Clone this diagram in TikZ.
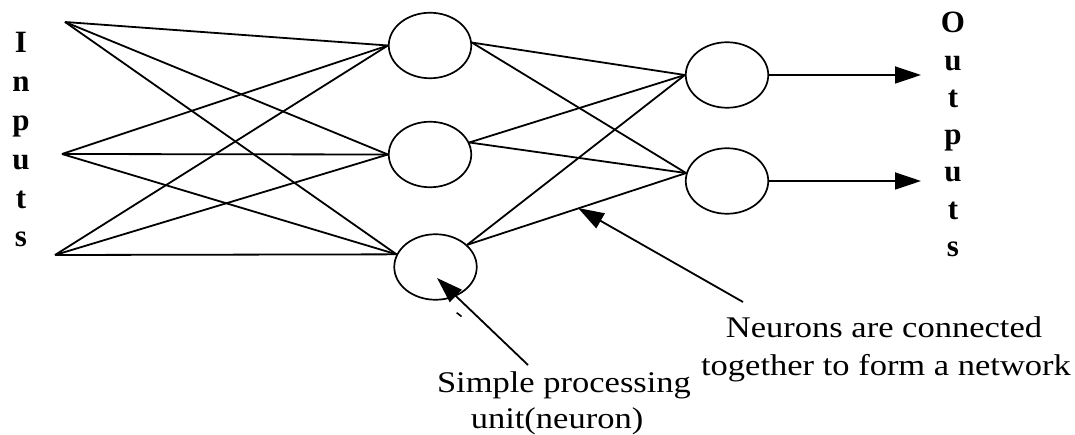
\documentclass[tikz,border=0pt]{standalone}
\usepackage{fontspec}
\setmainfont{Liberation Serif}
\usetikzlibrary{arrows.meta,shapes.geometric}
\newcommand\wideline[1]{\scalebox{1.15}[1]{#1}}
\begin{document}
\begin{tikzpicture}[x=1pt,y=-1pt,
  neuron/.style={draw, line width=1.7pt, ellipse, minimum width=82.5pt, minimum height=65.5pt, inner sep=0pt},
  link/.style={line width=1.8pt},
  outarrow/.style={line width=1.8pt, -{Triangle[length=26pt,width=17pt]}},
  lbl/.style={inner sep=0pt, font=\fontsize{30}{36}\selectfont, anchor=base},
  stack/.style={inner sep=0pt, align=center, anchor=north}]
\useasboundingbox (0,0) rectangle (1075,435);

% input points
\coordinate (i1) at (65,22);
\coordinate (i2) at (62,154);
\coordinate (i3) at (55,255);

% hidden layer
\node[neuron] (h1) at (430,45.5) {};
\node[neuron] (h2) at (430,154.5) {};
\node[neuron] (h3) at (435.5,267) {};

% output layer
\node[neuron] (o1) at (727,75) {};
\node[neuron] (o2) at (727,181) {};

% inputs -> hidden
\foreach \i in {i1,i2,i3} {
  \draw[link] (\i) -- (h1.west);
  \draw[link] (\i) -- (h2.west);
  \draw[link] (\i) -- (h3.162);
}

% hidden -> outputs
\draw[link] (h1.4) -- (o1.west);
\draw[link] (h1.4) -- (o2.169);
\draw[link] (h2.17) -- (o1.west);
\draw[link] (h2.17) -- (o2.169);
\draw[link] (h3.35) -- (o1.west);
\draw[link] (h3.35) -- (o2.169);

% output arrows
\coordinate (y1) at (921,75);
\coordinate (y2) at (921,181);
\draw[outarrow] (o1.east) -- (y1);
\draw[outarrow] (o2.east) -- (y2);

% side labels
\node[stack, font=\fontsize{31}{38.8}\bfseries\selectfont] (inputs) at (21,32.5) {I\\n\\p\\u\\t\\s};
\node[stack, font=\fontsize{31}{37.3}\bfseries\selectfont] (outputs) at (953,12) {O\\u\\t\\p\\u\\t\\s};

% annotations
\coordinate (unitTail) at (528,365);
\coordinate (unitTip) at (437,278);
\draw[outarrow] (unitTail) -- (unitTip);
\draw[line width=1.6pt] (456.7,312.7) -- (461.5,316.5);

\coordinate (netTail) at (743,302);
\coordinate (netTip) at (578,208);
\draw[outarrow] (netTail) -- (netTip);

\node[lbl] (net1) at (884,337) {\wideline{Neurons are connected}};
\node[lbl] (net2) at (886,375) {\wideline{together to form a network}};
\node[lbl] (unit1) at (564,392) {\wideline{Simple processing}};
\node[lbl] (unit2) at (557,428) {\wideline{unit(neuron)}};
\end{tikzpicture}
\end{document}
